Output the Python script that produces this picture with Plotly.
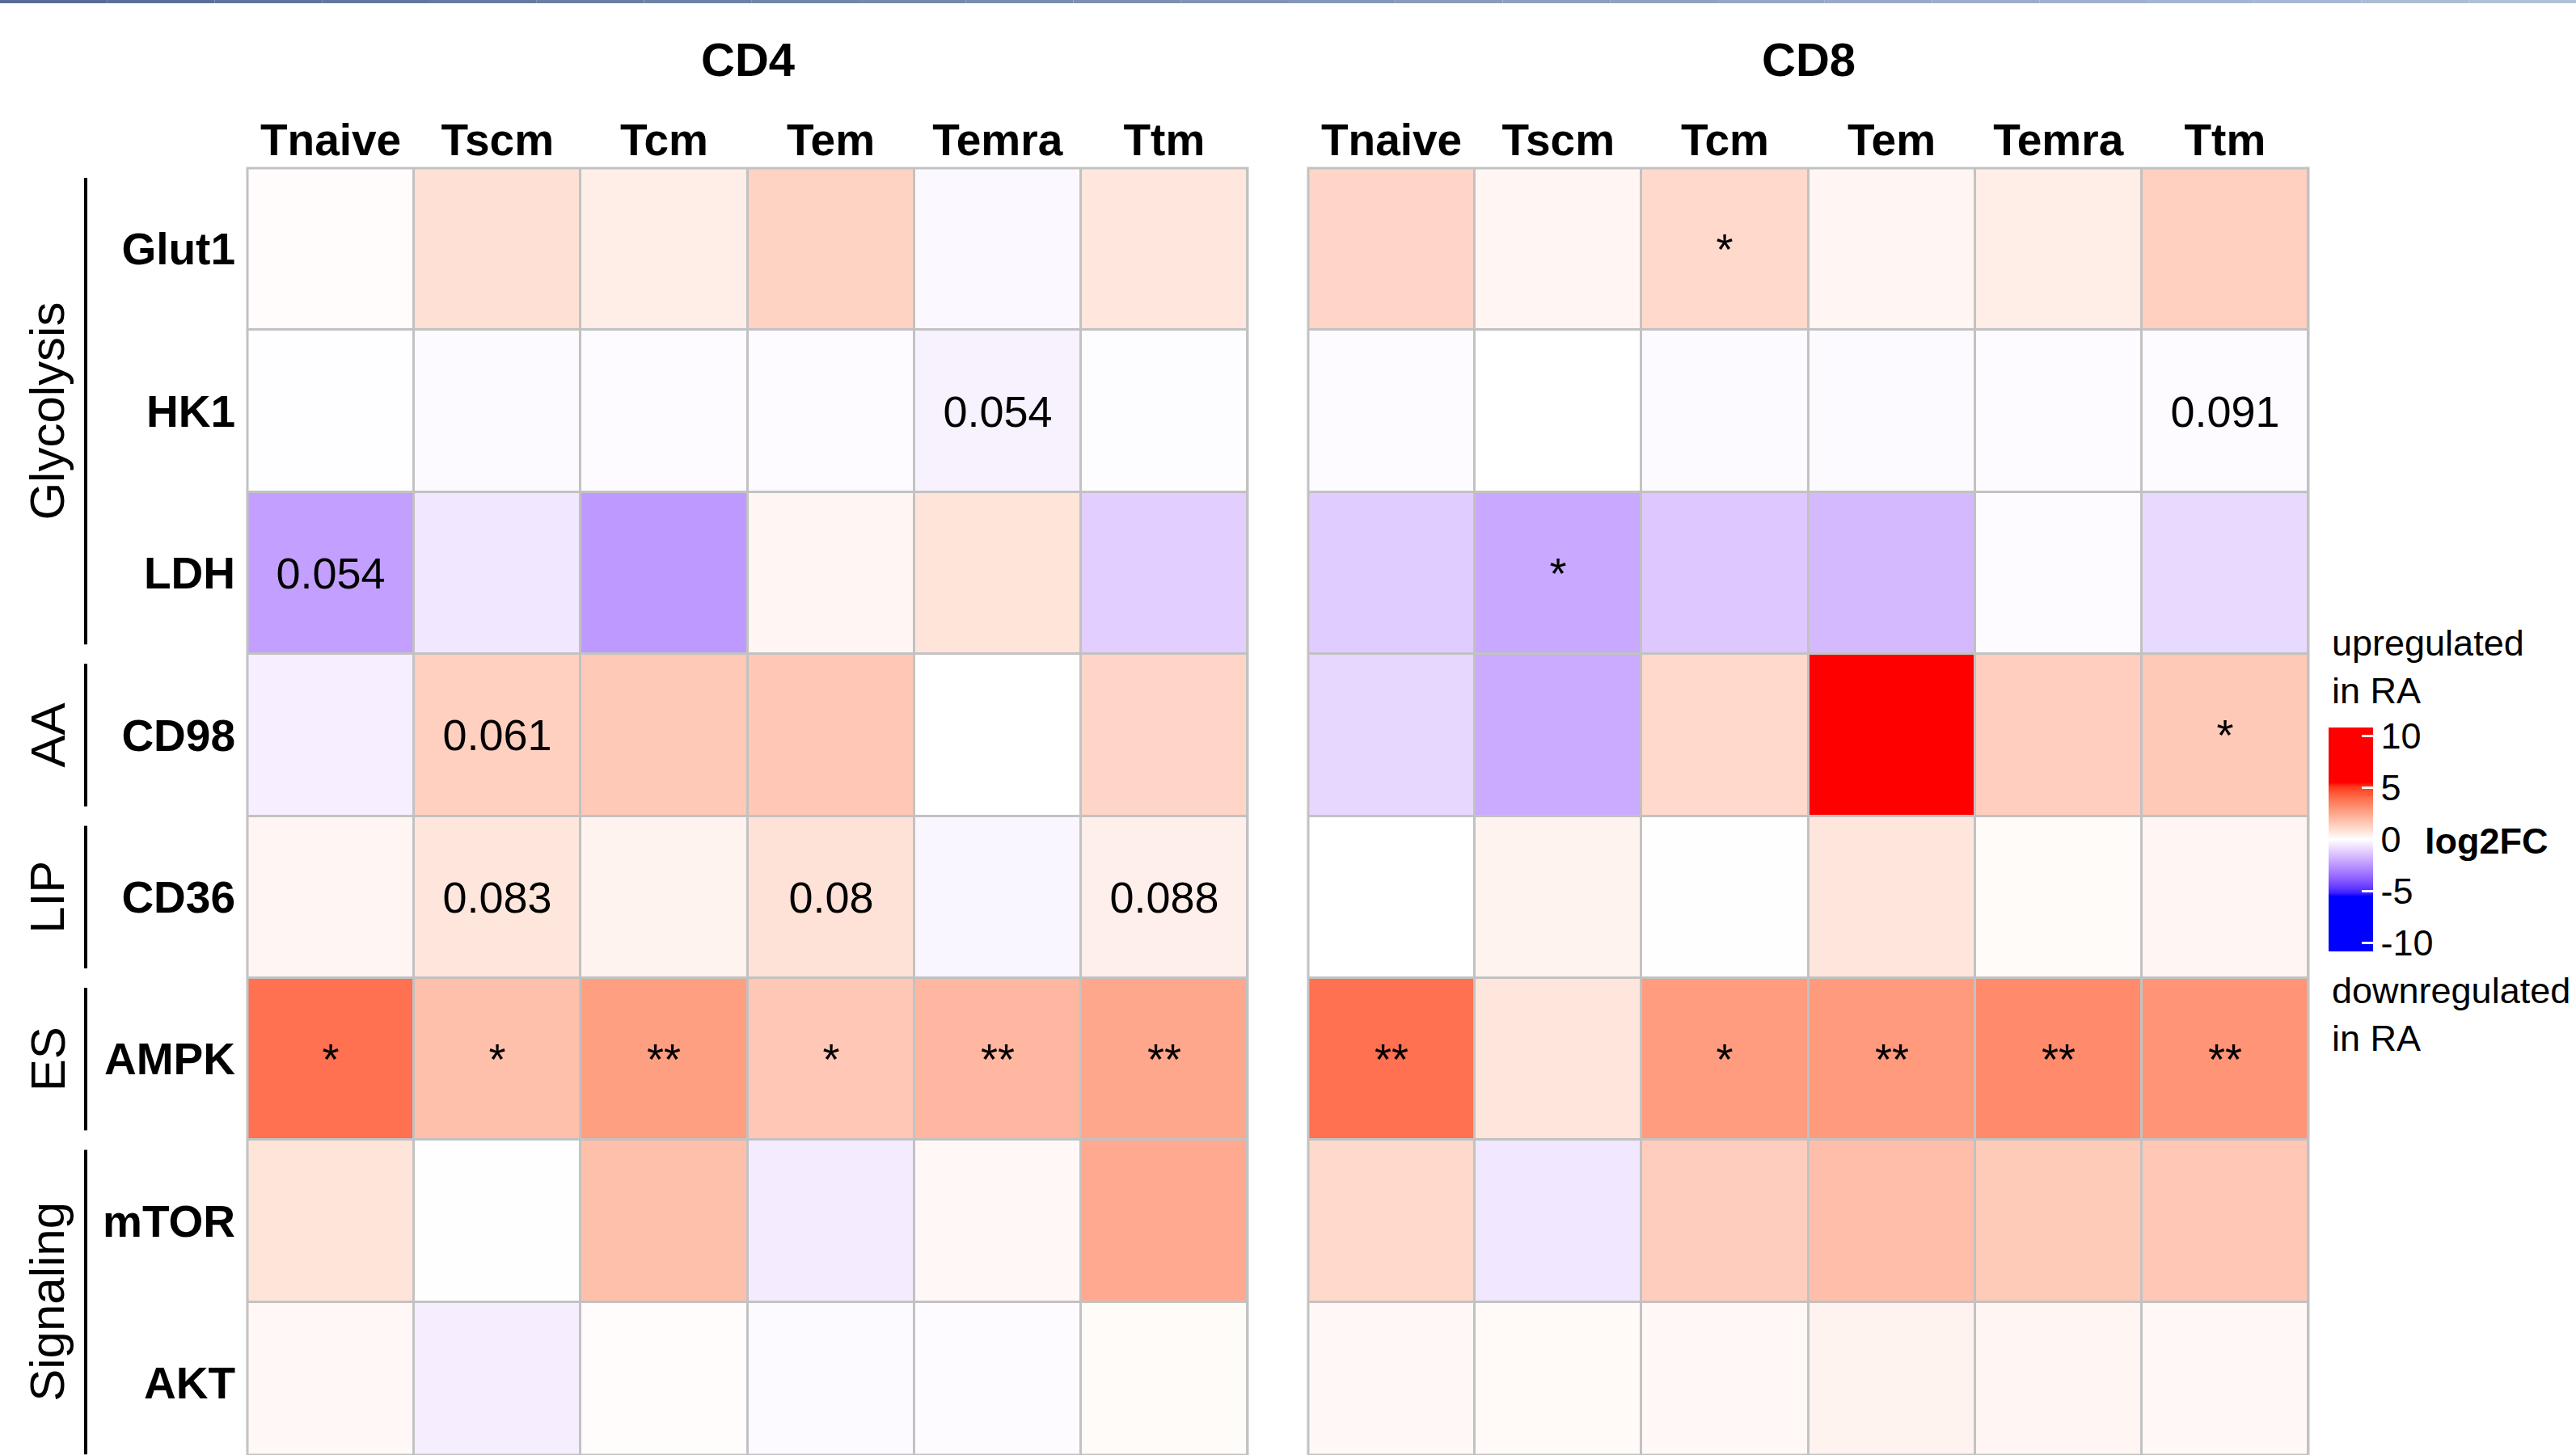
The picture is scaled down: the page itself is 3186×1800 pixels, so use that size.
import numpy as np
import plotly.graph_objects as go

# ---------------- data ----------------
rows = ["Glut1", "HK1", "LDH", "CD98", "CD36", "AMPK", "mTOR", "AKT"]
cols = ["Tnaive", "Tscm", "Tcm", "Tem", "Temra", "Ttm"]
groups = ["Glycolysis", "AA", "LIP", "ES", "Signaling"]
group_first_row = [0, 3, 4, 5, 6]
group_last_row = [2, 3, 4, 5, 7]
panels = ["CD4", "CD8"]

cd4_log2fc = [
    [0.08, 0.88, 0.50, 1.25, -0.15, 0.69],
    [-0.05, -0.12, -0.10, -0.10, -0.30, -0.07],
    [-2.25, -0.57, -2.40, 0.28, 0.77, -1.15],
    [-0.36, 1.35, 1.55, 1.60, 0.00, 1.20],
    [0.28, 0.72, 0.35, 0.83, -0.20, 0.45],
    [3.90, 1.80, 2.73, 1.60, 2.05, 2.50],
    [0.77, -0.03, 1.80, -0.47, 0.20, 2.40],
    [0.20, -0.39, 0.08, -0.12, -0.10, 0.12],
]
cd8_log2fc = [
    [1.20, 0.25, 1.10, 0.28, 0.50, 1.38],
    [-0.10, 0.00, -0.12, -0.12, -0.10, -0.10],
    [-1.20, -2.05, -1.30, -1.65, -0.10, -0.90],
    [-0.95, -2.00, 1.10, 7.50, 1.40, 1.55],
    [0.00, 0.35, 0.03, 0.72, 0.12, 0.28],
    [3.90, 0.72, 2.80, 2.85, 3.25, 3.00],
    [1.10, -0.57, 1.42, 1.85, 1.50, 1.60],
    [0.20, 0.15, 0.20, 0.35, 0.25, 0.20],
]
cd4_labels = [
    ["", "", "", "", "", ""],
    ["", "", "", "", "0.054", ""],
    ["0.054", "", "", "", "", ""],
    ["", "0.061", "", "", "", ""],
    ["", "0.083", "", "0.08", "", "0.088"],
    ["*", "*", "**", "*", "**", "**"],
    ["", "", "", "", "", ""],
    ["", "", "", "", "", ""],
]
cd8_labels = [
    ["", "", "*", "", "", ""],
    ["", "", "", "", "", "0.091"],
    ["", "*", "", "", "", ""],
    ["", "", "", "", "", "*"],
    ["", "", "", "", "", ""],
    ["**", "", "*", "**", "**", "**"],
    ["", "", "", "", "", ""],
    ["", "", "", "", "", ""],
]
cbar_ticks = [-10, -5, 0, 5, 10]
cbar_ticktext = ["-10", "-5", "0", "5", "10"]

# ---------------- colour scale (Lab interpolation, like ggplot) ----------------
def _to_lin(c):
    c = c / 255.0
    return np.where(c <= 0.04045, c / 12.92, ((c + 0.055) / 1.055) ** 2.4)

def _from_lin(c):
    c = np.clip(c, 0, 1)
    return 255 * np.where(c <= 0.0031308, 12.92 * c, 1.055 * c ** (1 / 2.4) - 0.055)

M = np.array([[0.4124, 0.3576, 0.1805], [0.2126, 0.7152, 0.0722], [0.0193, 0.1192, 0.9505]])
Minv = np.linalg.inv(M)
WHITE = np.array([0.95047, 1.0, 1.08883])

def _f(t):
    return np.where(t > 0.008856, np.cbrt(t), 7.787 * t + 16 / 116)

def _finv(t):
    return np.where(t > 0.206893, t ** 3, (t - 16 / 116) / 7.787)

def rgb2lab(rgb):
    xyz = M @ _to_lin(np.array(rgb, float)) / WHITE
    fx, fy, fz = _f(xyz)
    return np.array([116 * fy - 16, 500 * (fx - fy), 200 * (fy - fz)])

def lab2hex(lab):
    L, a, b = lab
    fy = (L + 16) / 116
    xyz = np.array([_finv(fy + a / 500), _finv(fy), _finv(fy - b / 200)]) * WHITE
    r, g, b_ = _from_lin(Minv @ xyz)
    return "#%02x%02x%02x" % (int(round(r)), int(round(g)), int(round(b_)))

ZMIN, ZMAX, SAT = -10.8, 10.8, 5.5
lab_w, lab_r, lab_b = rgb2lab([255, 255, 255]), rgb2lab([255, 0, 0]), rgb2lab([0, 0, 255])
def pos(v):
    return (v - ZMIN) / (ZMAX - ZMIN)
cscale = [[0.0, "#0000ff"]]
n = 16
for i in range(n + 1):
    t = 1 - i / n
    cscale.append([pos(-SAT * t), lab2hex(lab_w + t * (lab_b - lab_w))])
for i in range(1, n + 1):
    t = i / n
    cscale.append([pos(SAT * t), lab2hex(lab_w + t * (lab_r - lab_w))])
cscale.append([1.0, "#ff0000"])

# ---------------- figure ----------------
W, H = 3186, 1800
FONT = "Arial, Liberation Sans, sans-serif"
GRID = "#c2c2c2"
ROW_PX = 200.4
TOP_PX = 208

def px(x):
    return x / W

def py(y):
    return 1 - y / H

CB_X, CB_Y, CB_LEN, CB_W = 2880, 1038.5, 277, 55

fig = go.Figure()
data = [cd4_log2fc, cd8_log2fc]
labels = [cd4_labels, cd8_labels]
for k in range(2):
    fig.add_trace(go.Heatmap(
        z=data[k], x=cols, y=rows, text=labels[k], texttemplate="%{text}",
        textfont=dict(family=FONT, size=54, color="black"),
        colorscale=cscale, zmin=ZMIN, zmax=ZMAX, xgap=3, ygap=3,
        xaxis="x" if k == 0 else "x2", yaxis="y" if k == 0 else "y2",
        showscale=(k == 0),
        colorbar=dict(
            x=px(CB_X), xanchor="left", y=py(CB_Y), yanchor="middle",
            len=CB_LEN, lenmode="pixels", thickness=CB_W, thicknessmode="pixels",
            xpad=0, ypad=0,
            outlinewidth=0, tickvals=cbar_ticks, ticktext=cbar_ticktext,
            ticks="inside", ticklen=14, tickcolor="white", tickwidth=3,
            tickfont=dict(family=FONT, size=45, color="black"),
        ),
        hoverinfo="skip",
    ))

xdomains = [[px(306), px(1543)], [px(1618), px(2855)]]
ydomain = [0, py(TOP_PX)]
visible_rows = (H - TOP_PX) / ROW_PX
yrange = [-0.5 + visible_rows, -0.5]
axis_common = dict(showgrid=False, zeroline=False, showline=False, ticks="", automargin=False)
fig.update_layout(
    width=W, height=H, margin=dict(l=0, r=0, t=0, b=0, autoexpand=False),
    paper_bgcolor="white", plot_bgcolor=GRID,
    xaxis=dict(domain=xdomains[0], side="top", anchor="y", ticklabelstandoff=4,
               tickfont=dict(family=FONT, size=55, color="black", weight="bold"), **axis_common),
    xaxis2=dict(domain=xdomains[1], side="top", anchor="y2", ticklabelstandoff=4,
                tickfont=dict(family=FONT, size=55, color="black", weight="bold"), **axis_common),
    yaxis=dict(domain=ydomain, range=yrange, anchor="x", ticklabelstandoff=14,
               tickfont=dict(family=FONT, size=55, color="black", weight="bold"), **axis_common),
    yaxis2=dict(domain=ydomain, range=yrange, anchor="x2", showticklabels=False,
                matches="y", **axis_common),
    showlegend=False,
)

# panel borders
for xr, yr in [("x domain", "y domain"), ("x2 domain", "y2 domain")]:
    fig.add_shape(type="rect", xref=xr, yref=yr, x0=0, x1=1, y0=0, y1=1,
                  line=dict(color=GRID, width=3), fillcolor="rgba(0,0,0,0)")

# panel titles
for k, name in enumerate(panels):
    fig.add_annotation(text="<b>%s</b>" % name, xref="x domain" if k == 0 else "x2 domain",
                       yref="paper", x=0.5, y=py(73), xanchor="center", yanchor="middle",
                       showarrow=False, font=dict(family=FONT, size=58, color="black"))

# row group labels and brackets
for g, r0, r1 in zip(groups, group_first_row, group_last_row):
    fig.add_annotation(text=g, xref="paper", yref="y", x=px(59), y=(r0 + r1) / 2,
                       xanchor="center", yanchor="middle",
                       textangle=-90, showarrow=False,
                       font=dict(family=FONT, size=60, color="black"))
    fig.add_shape(type="line", xref="paper", yref="y", x0=px(106), x1=px(106),
                  y0=r0 - 0.5 + 0.06, y1=r1 + 0.5 - 0.06,
                  line=dict(color="black", width=4))

# white tick dashes on the left edge of the colour bar
for v in cbar_ticks:
    yv = CB_Y - v * CB_LEN / (ZMAX - ZMIN)
    fig.add_shape(type="line", xref="paper", yref="paper", x0=px(CB_X), x1=px(CB_X + 14),
                  y0=py(yv), y1=py(yv), line=dict(color="white", width=3))

# legend texts
fig.add_annotation(text="upregulated<br>in RA", xref="paper", yref="paper",
                   x=px(2882), y=py(768), xanchor="left", yanchor="top", align="left",
                   showarrow=False, font=dict(family=FONT, size=45, color="black"))
fig.add_annotation(text="downregulated<br>in RA", xref="paper", yref="paper",
                   x=px(2882), y=py(1198), xanchor="left", yanchor="top", align="left",
                   showarrow=False, font=dict(family=FONT, size=45, color="black"))
fig.add_annotation(text="<b>log2FC</b>", xref="paper", yref="paper",
                   x=px(2997), y=py(1040), xanchor="left", yanchor="middle",
                   showarrow=False, font=dict(family=FONT, size=45, color="black"))

# thin top banner line (gradient blue-grey)
nseg = 24
c0, c1 = np.array([88, 108, 150]), np.array([176, 192, 216])
for i in range(nseg):
    c = c0 + (c1 - c0) * i / (nseg - 1)
    fig.add_shape(type="rect", xref="paper", yref="paper", x0=i / nseg, x1=(i + 1) / nseg,
                  y0=py(4), y1=1, line=dict(width=0),
                  fillcolor="rgb(%d,%d,%d)" % tuple(c.astype(int)), layer="above")

fig.write_html("out.html", post_script="document.body.style.margin='0px';",
               config={"displayModeBar": False})
